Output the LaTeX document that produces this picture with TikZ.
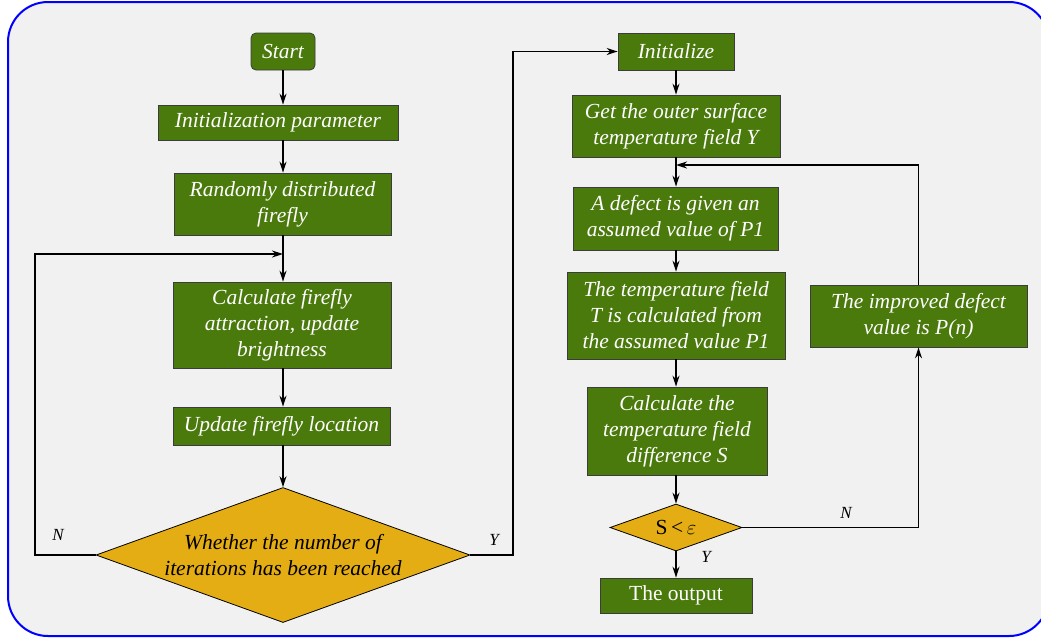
\documentclass[tikz,border=0pt]{standalone}
\usepackage{fontspec}
\setmainfont{LiberationSerif}[Extension=.ttf,UprightFont=*-Regular,ItalicFont=*-Italic,BoldFont=*-Bold,BoldItalicFont=*-BoldItalic]
\usetikzlibrary{shapes.geometric,arrows.meta}
\definecolor{boxgreen}{RGB}{74,121,12}
\definecolor{diagold}{RGB}{229,173,20}
\definecolor{bgray}{RGB}{241,241,241}
\definecolor{edgegray}{RGB}{60,60,60}
\tikzset{
  procbox/.style={draw=edgegray,line width=0.8pt,fill=boxgreen,text=white,inner sep=0pt,
    align=center,font=\fontsize{21.5}{26}\selectfont\itshape},
  decision/.style={draw=black,line width=0.8pt,fill=diagold,diamond,inner sep=0pt,
    align=center,font=\fontsize{21.5}{26}\selectfont\itshape},
  flow/.style={line width=1.6pt,-{Stealth[length=11pt,width=7pt]}},
  yn/.style={font=\fontsize{17}{18}\selectfont\itshape}
}
\begin{document}
\begin{tikzpicture}[x=1pt,y=-1pt]
\useasboundingbox (0,0) rectangle (1041,641);
\clip (0,0) rectangle (1041,641);
\fill[white] (0,0) rectangle (1041,641);
\draw[blue,line width=2pt,fill=bgray,rounded corners=40pt] (8,2) rectangle (1049,636);

% left column
\node[procbox,rounded corners=5pt,minimum width=64pt,minimum height=37pt] (start) at (283,51.5) {Start};
\node[procbox,minimum width=240pt,minimum height=35pt] (init) at (278,122.5) {Initialization parameter};
\node[procbox,minimum width=217pt,minimum height=62pt] (rand) at (282.5,204) {Randomly distributed\\firefly};
\node[procbox,minimum width=218pt,minimum height=86pt] (calc) at (282,325) {Calculate firefly\\attraction, update\\brightness};
\node[procbox,minimum width=217pt,minimum height=38pt] (upd) at (281.5,426) {Update firefly location};
\node[decision,shape aspect=2.77,minimum width=374pt,minimum height=135pt] (dia) at (283,555) {Whether the number of\\iterations has been reached};

% right column
\node[procbox,minimum width=116pt,minimum height=37pt] (initz) at (676,51.5) {Initialize};
\node[procbox,minimum width=208pt,minimum height=62pt] (get) at (676,126) {Get the outer surface\\temperature field Y};
\node[procbox,minimum width=205pt,minimum height=63pt] (def) at (675.5,218.5) {A defect is given an\\assumed value of P1};
\node[procbox,minimum width=218pt,minimum height=87pt] (tf) at (676,315.5) {The temperature field\\T is calculated from\\the assumed value P1};
\node[procbox,minimum width=217pt,minimum height=62pt] (imp) at (918.5,316) {The improved defect\\value is P(n)};
\node[procbox,minimum width=180pt,minimum height=88pt] (cds) at (677,431) {Calculate the\\temperature field\\difference S};
\node[decision,shape aspect=2.8,minimum width=132pt,minimum height=47pt,font=\fontsize{21.5}{26}\selectfont] (sdia) at (676,527.5) {S\,<\,$\varepsilon$};
\node[procbox,minimum width=152pt,minimum height=35pt,font=\fontsize{21.5}{26}\selectfont] (out) at (676,595.5) {The output};

% coordinates
\coordinate (jL) at (283,254);
\coordinate (lx) at (35,555);
\coordinate (ry) at (513,555);
\coordinate (jR) at (676,165);

% left connectors
\draw[flow] (283,0 |- start.south) -- (283,0 |- init.north);
\draw[flow] (283,0 |- init.south) -- (283,0 |- rand.north);
\draw[flow] (283,0 |- rand.south) -- (283,0 |- calc.north);
\draw[flow] (283,0 |- calc.south) -- (283,0 |- upd.north);
\draw[flow] (283,0 |- upd.south) -- (dia.north);
\draw[flow] (dia.west) -- (dia.west -| lx) |- (jL);
\draw[flow] (dia.east) -- (dia.east -| ry) |- (initz.west);
\node[yn] (nl) at (58,535) {N};
\node[yn] (yl) at (494,540) {Y};

% right connectors
\draw[flow] (676,0 |- initz.south) -- (676,0 |- get.north);
\draw[flow] (676,0 |- get.south) -- (676,0 |- def.north);
\draw[flow] (676,0 |- def.south) -- (676,0 |- tf.north);
\draw[flow] (676,0 |- tf.south) -- (676,0 |- cds.north);
\draw[flow] (676,0 |- cds.south) -- (sdia.north);
\draw[flow] (sdia.south) -- (out.north);
\draw[flow] (sdia.east) -| (imp.south);
\draw[flow] (imp.north) |- (jR);
\node[yn] (yr) at (706,557) {Y};
\node[yn] (nr) at (846,513) {N};
\end{tikzpicture}
\end{document}
